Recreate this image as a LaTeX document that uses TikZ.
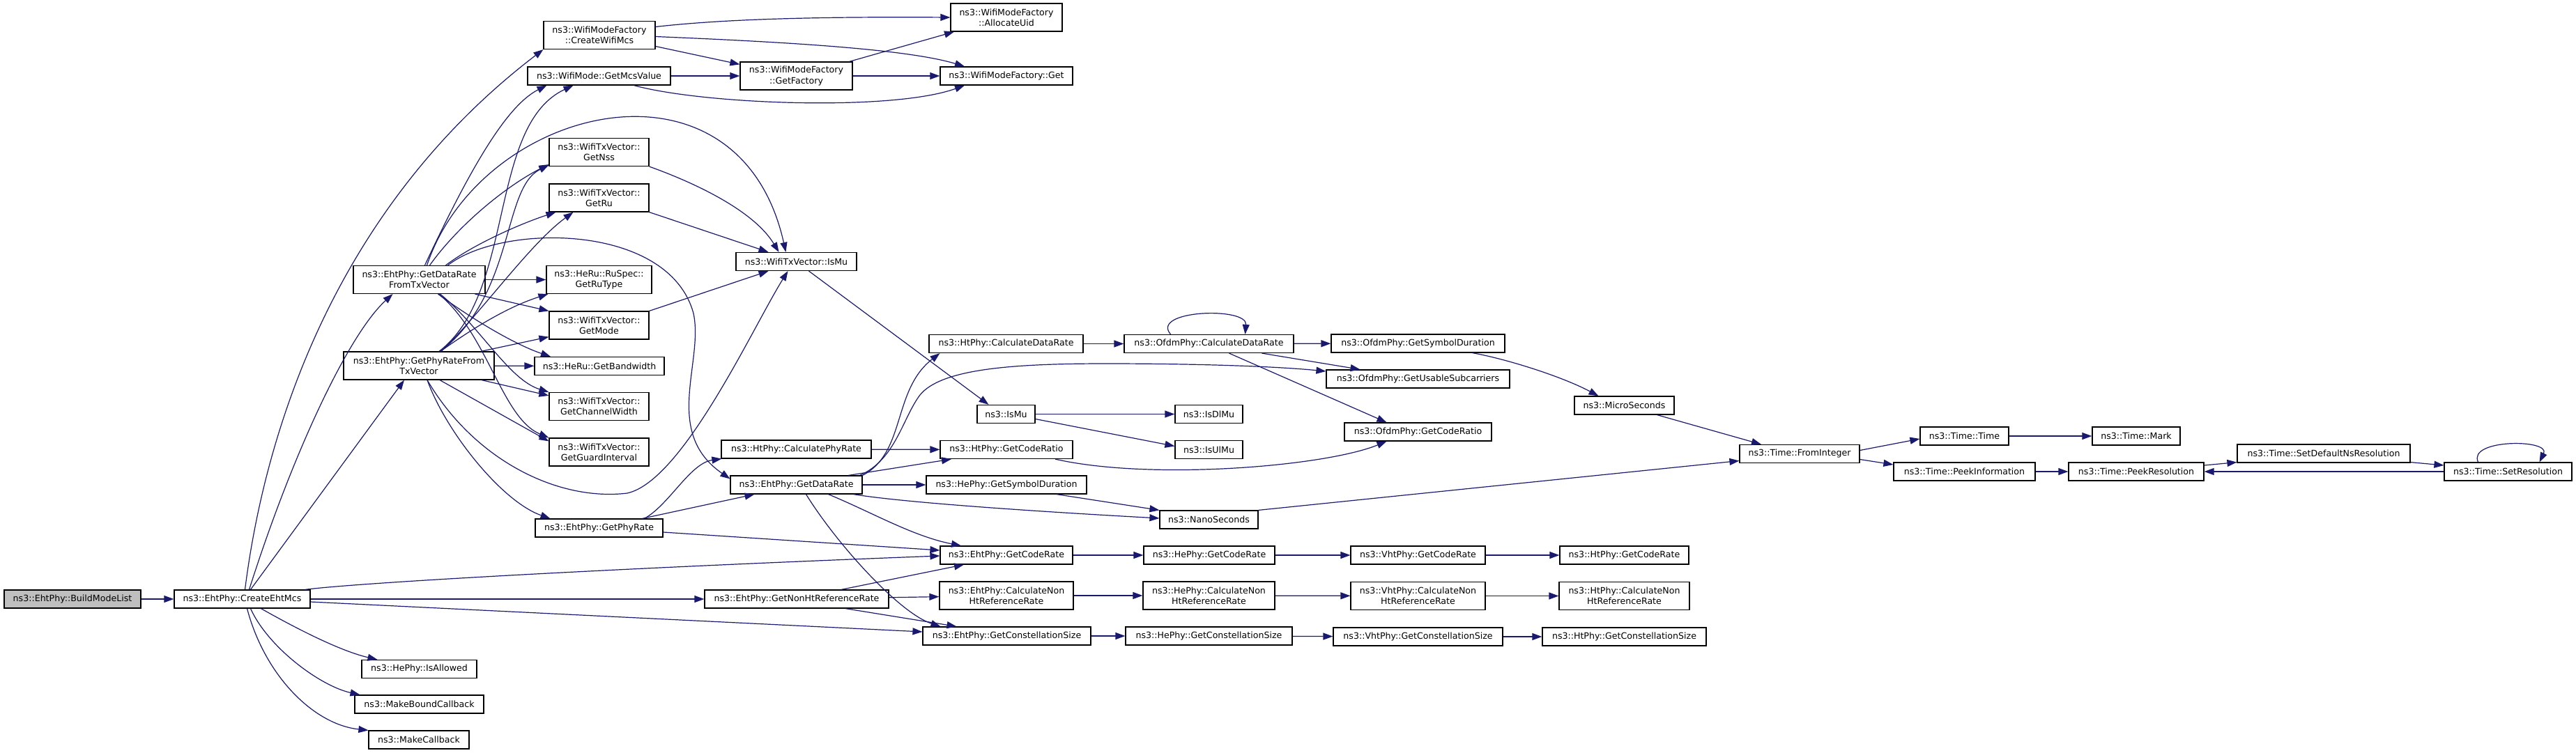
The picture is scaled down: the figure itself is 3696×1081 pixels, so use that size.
\documentclass[tikz,border=0pt]{standalone}
\usepackage{fontspec}
\setmainfont{DejaVu Sans}
\usetikzlibrary{arrows.meta}
\definecolor{edgeblue}{HTML}{191970}
\definecolor{rootgray}{HTML}{BFBFBF}

\begin{document}
\begin{tikzpicture}[x=1pt, y=-1pt,
    fn/.style={draw=black, line width=1.2pt, fill=white, inner sep=0pt,
      minimum height=26pt, align=center, font=\fontsize{12.6}{15.3}\selectfont},
    fn2/.style={fn, minimum height=40pt},
    root/.style={fn, fill=rootgray},
    call/.style={draw=edgeblue, line width=1.2pt, -{Triangle[length=14pt,width=10pt]}}]

    % Page size and background
    \fill[white] (0,0) rectangle (3696,1081);
    \useasboundingbox (0,0) rectangle (3696,1081);

    % Root and first callee
    \node[root, minimum width=196pt] (build) at (104,860) {ns3::EhtPhy::BuildModeList};
    \node[fn, minimum width=195pt] (create) at (347.5,860) {ns3::EhtPhy::CreateEhtMcs};

    % Third column
    \node[fn2, minimum width=189pt] (drtx) at (601.5,401.5) {ns3::EhtPhy::GetDataRate\\FromTxVector};
    \node[fn2, minimum width=216pt] (prtx) at (601,525) {ns3::EhtPhy::GetPhyRateFrom\\TxVector};
    \node[fn, minimum width=165pt] (allowed) at (601.5,960.5) {ns3::HePhy::IsAllowed};
    \node[fn, minimum width=185pt] (mbc) at (601.5,1011) {ns3::MakeBoundCallback};
    \node[fn, minimum width=144pt] (mc) at (601,1062) {ns3::MakeCallback};

    % Fourth column
    \node[fn2, minimum width=160pt] (cwm) at (860,50.5) {ns3::WifiModeFactory\\::CreateWifiMcs};
    \node[fn, minimum width=205pt] (mcs) at (859.5,109) {ns3::WifiMode::GetMcsValue};
    \node[fn2, minimum width=143pt] (nss) at (859.5,218.5) {ns3::WifiTxVector::\\GetNss};
    \node[fn2, minimum width=143pt] (getru) at (859.5,284) {ns3::WifiTxVector::\\GetRu};
    \node[fn2, minimum width=151pt] (rutype) at (859.5,401.5) {ns3::HeRu::RuSpec::\\GetRuType};
    \node[fn2, minimum width=143pt] (mode) at (859.5,467) {ns3::WifiTxVector::\\GetMode};
    \node[fn, minimum width=186pt] (bw) at (860,525.5) {ns3::HeRu::GetBandwidth};
    \node[fn2, minimum width=143pt] (chw) at (859.5,583.5) {ns3::WifiTxVector::\\GetChannelWidth};
    \node[fn2, minimum width=143pt] (gi) at (859.5,649) {ns3::WifiTxVector::\\GetGuardInterval};
    \node[fn, minimum width=183pt] (phyrate) at (859.5,758) {ns3::EhtPhy::GetPhyRate};

    % Fifth column
    \node[fn2, minimum width=161pt] (factory) at (1142.5,109) {ns3::WifiModeFactory\\::GetFactory};
    \node[fn, minimum width=173pt] (txismu) at (1142.5,375.5) {ns3::WifiTxVector::IsMu};
    \node[fn, minimum width=215pt] (htcpr) at (1142.5,645) {ns3::HtPhy::CalculatePhyRate};
    \node[fn, minimum width=189pt] (dr) at (1142.5,696) {ns3::EhtPhy::GetDataRate};
    \node[fn, minimum width=264pt] (nonht) at (1143,860) {ns3::EhtPhy::GetNonHtReferenceRate};

    % Sixth column
    \node[fn2, minimum width=160pt] (alloc) at (1444,25) {ns3::WifiModeFactory\\::AllocateUid};
    \node[fn, minimum width=190pt] (get) at (1444,109) {ns3::WifiModeFactory::Get};
    \node[fn, minimum width=221pt] (htcdr) at (1443.5,493.5) {ns3::HtPhy::CalculateDataRate};
    \node[fn, minimum width=83pt] (ismu) at (1443.5,594.5) {ns3::IsMu};
    \node[fn, minimum width=190pt] (htcr) at (1444,645.5) {ns3::HtPhy::GetCodeRatio};
    \node[fn, minimum width=230pt] (hesym) at (1444,696) {ns3::HePhy::GetSymbolDuration};
    \node[fn, minimum width=190pt] (ehtcode) at (1444,797) {ns3::EhtPhy::GetCodeRate};
    \node[fn2, minimum width=192pt] (ehtcnon) at (1444,855) {ns3::EhtPhy::CalculateNon\\HtReferenceRate};
    \node[fn, minimum width=241pt] (ehtcs) at (1444.5,913) {ns3::EhtPhy::GetConstellationSize};

    % Seventh column
    \node[fn, minimum width=243pt] (ofcdr) at (1734.5,493.5) {ns3::OfdmPhy::CalculateDataRate};
    \node[fn, minimum width=97pt] (isdl) at (1734.5,594.5) {ns3::IsDlMu};
    \node[fn, minimum width=97pt] (isul) at (1734.5,645.5) {ns3::IsUlMu};
    \node[fn, minimum width=141pt] (nano) at (1734.5,746) {ns3::NanoSeconds};
    \node[fn, minimum width=188pt] (hecode) at (1735,797) {ns3::HePhy::GetCodeRate};
    \node[fn2, minimum width=189pt] (hecnon) at (1734.5,855) {ns3::HePhy::CalculateNon\\HtReferenceRate};
    \node[fn, minimum width=239pt] (hecs) at (1734.5,913) {ns3::HePhy::GetConstellationSize};

    % Eighth column
    \node[fn, minimum width=249pt] (ofsym) at (2034.5,493) {ns3::OfdmPhy::GetSymbolDuration};
    \node[fn, minimum width=263pt] (usable) at (2034.5,544) {ns3::OfdmPhy::GetUsableSubcarriers};
    \node[fn, minimum width=211pt] (ofcr) at (2034.5,620) {ns3::OfdmPhy::GetCodeRatio};
    \node[fn, minimum width=193pt] (vhtcode) at (2034.5,797) {ns3::VhtPhy::GetCodeRate};
    \node[fn2, minimum width=193pt] (vhtcnon) at (2034.5,855.5) {ns3::VhtPhy::CalculateNon\\HtReferenceRate};
    \node[fn, minimum width=243pt] (vhtcs) at (2034.5,914) {ns3::VhtPhy::GetConstellationSize};

    % Ninth column
    \node[fn, minimum width=143pt] (micro) at (2330.5,582) {ns3::MicroSeconds};
    \node[fn, minimum width=185pt] (htcode) at (2330.5,797) {ns3::HtPhy::GetCodeRate};
    \node[fn2, minimum width=187pt] (htcnon) at (2330.5,855.5) {ns3::HtPhy::CalculateNon\\HtReferenceRate};
    \node[fn, minimum width=235pt] (htcs) at (2330.5,914) {ns3::HtPhy::GetConstellationSize};

    % Time functions
    \node[fn, minimum width=172pt] (fromint) at (2582,651.5) {ns3::Time::FromInteger};
    \node[fn, minimum width=127pt] (time) at (2818.5,626) {ns3::Time::Time};
    \node[fn, minimum width=203pt] (peekinfo) at (2818.5,677) {ns3::Time::PeekInformation};
    \node[fn, minimum width=126pt] (mark) at (3065,626) {ns3::Time::Mark};
    \node[fn, minimum width=194pt] (peekres) at (3065,677) {ns3::Time::PeekResolution};
    \node[fn, minimum width=248pt] (setdef) at (3334,651) {ns3::Time::SetDefaultNsResolution};
    \node[fn, minimum width=183pt] (setres) at (3598.5,677) {ns3::Time::SetResolution};

    % Calls of BuildModeList and CreateEhtMcs
    \draw[call] (build) -- (create);
    \draw[call] ([xshift=4pt]create.north) .. controls (380,620) and (480,300) .. (cwm.south west);
    \draw[call] ([xshift=10pt]create.north) .. controls (420,650) and (500,480) .. ([xshift=-38pt]drtx.south);
    \draw[call] ([xshift=12pt]create.north) -- ([xshift=-21pt]prtx.south);
    \draw[call] ([xshift=-8pt]create.north east) .. controls (520,836) and (900,815) .. ([yshift=-1pt]ehtcode.west);
    \draw[call] (create) -- (nonht);
    \draw[call] ([yshift=-4pt]create.east) -- ([yshift=6pt]ehtcs.west);
    \draw[call] ([xshift=27pt]create.south) .. controls (430,905) and (490,935) .. ([xshift=-60pt]allowed.north);
    \draw[call] ([xshift=12pt]create.south) .. controls (385,930) and (460,985) .. ([xshift=-85pt]mbc.north);
    \draw[call] ([xshift=7pt]create.south) .. controls (380,970) and (450,1040) .. (mc.north west);

    % WifiModeFactory calls
    \draw[call] ([yshift=12pt]cwm.east) .. controls (1050,26) and (1200,24) .. (alloc.west);
    \draw[call] ([yshift=-16pt]cwm.east) -- ([yshift=-4pt]factory.north west);
    \draw[call] ([yshift=-2pt]cwm.east) .. controls (1120,60) and (1300,70) .. ([xshift=-60pt]get.north);
    \draw[call] (mcs) -- (factory);
    \draw[call] ([xshift=50pt]mcs.south) .. controls (1010,150) and (1280,160) .. ([xshift=-60pt]get.south);
    \draw[call] ([xshift=-5pt]factory.north east) -- ([xshift=-75pt]alloc.south);
    \draw[call] (factory) -- (get);

    % Calls of GetDataRateFromTxVector
    \draw[call] ([xshift=8pt]drtx.north) .. controls (680,230) and (730,150) .. ([xshift=-75pt]mcs.south);
    \draw[call] ([xshift=11pt]drtx.north) .. controls (690,150) and (1060,60) .. ([xshift=-15pt]txismu.north);
    \draw[call] ([xshift=15pt]drtx.north) .. controls (660,320) and (730,265) .. ([yshift=3pt]nss.south west);
    \draw[call] ([xshift=38pt]drtx.north) .. controls (680,350) and (750,320) .. ([xshift=-62pt]getru.south);
    \draw[call] ([xshift=41pt]drtx.north) .. controls (720,320) and (960,320) .. (995,450)
        .. controls (1010,520) and (950,620) .. ([yshift=-5pt]dr.north west);
    \draw[call] (drtx) -- (rutype);
    \draw[call] ([xshift=80pt]drtx.south) -- (mode.north west);
    \draw[call] ([xshift=27pt]drtx.south) .. controls (680,460) and (740,495) .. ([xshift=-70pt]bw.north);
    \draw[call] ([xshift=30pt]drtx.south) .. controls (690,470) and (730,545) .. (chw.north west);
    \draw[call] ([xshift=28pt]drtx.south) .. controls (700,480) and (720,600) .. (gi.north west);

    % Calls of GetPhyRateFromTxVector
    \draw[call] ([xshift=29pt]prtx.north) .. controls (740,420) and (700,180) .. ([xshift=-37pt]mcs.south);
    \draw[call] ([xshift=31pt]prtx.north) .. controls (740,420) and (720,270) .. ([yshift=2pt]nss.south west);
    \draw[call] ([xshift=32pt]prtx.north) .. controls (690,450) and (760,350) .. ([xshift=-37pt]getru.south);
    \draw[call] ([xshift=31pt]prtx.north) .. controls (680,470) and (730,440) .. ([xshift=3pt]rutype.south west);
    \draw[call] ([xshift=89pt]prtx.north) -- ([yshift=4pt]mode.south west);
    \draw[call] (prtx) -- (bw);
    \draw[call] ([xshift=90pt]prtx.south) -- ([yshift=-5pt]chw.north west);
    \draw[call] ([xshift=30pt]prtx.south) -- ([yshift=-5pt]gi.north west);
    \draw[call] ([xshift=12pt]prtx.south) .. controls (680,660) and (800,720) .. (900,708)
        .. controls (980,690) and (1080,470) .. ([xshift=-12pt]txismu.south);
    \draw[call] ([xshift=12pt]prtx.south) .. controls (640,620) and (720,720) .. ([xshift=-70pt]phyrate.north);

    % Calls of GetPhyRate
    \draw[call] ([xshift=65pt]phyrate.north) .. controls (960,725) and (990,665) .. ([xshift=1pt]htcpr.south west);
    \draw[call] ([xshift=62pt]phyrate.north) -- ([xshift=-60pt]dr.south);
    \draw[call] ([yshift=-6pt]phyrate.east) -- ([yshift=7pt]ehtcode.west);

    % WifiTxVector calls of IsMu
    \draw[call] (nss.south east) .. controls (990,260) and (1080,300) .. ([xshift=-25pt]txismu.north);
    \draw[call] (getru.south east) -- ([xshift=-40pt]txismu.north);
    \draw[call] (mode.north east) -- ([xshift=-40pt]txismu.south);
    \draw[call] ([xshift=18pt]txismu.south) -- ([xshift=-25pt]ismu.north);

    % Calls of EhtPhy::GetDataRate
    \draw[call] (dr.north east) .. controls (1300,650) and (1280,560) .. ([xshift=-95pt]htcdr.south);
    \draw[call] ([xshift=-4pt]dr.north east) .. controls (1285,660) and (1295,600) .. (1320,567)
        .. controls (1350,530) and (1450,522) .. (1586,522)
        .. controls (1700,522) and (1820,525) .. ([yshift=11pt]usable.west);
    \draw[call] ([xshift=75pt]dr.north) -- ([xshift=-79pt]htcr.south);
    \draw[call] (dr) -- (hesym);
    \draw[call] ([xshift=82pt]dr.south) .. controls (1300,722) and (1500,735) .. ([yshift=2pt]nano.west);
    \draw[call] ([xshift=46pt]dr.south) .. controls (1250,735) and (1310,770) .. ([xshift=-65pt]ehtcode.north);
    \draw[call] ([xshift=14pt]dr.south) .. controls (1200,780) and (1290,880) .. ([xshift=-95pt]ehtcs.north);
    \draw[call] ([xshift=72pt]hesym.south) -- (nano.north west);
    \draw[call] (htcpr) -- (htcr);

    % OfdmPhy calls
    \draw[call] (htcdr) -- (ofcdr);
    \draw[call] ([xshift=-55pt]ofcdr.north) .. controls (1650,445) and (1790,440) .. ([xshift=52pt]ofcdr.north);
    \draw[call] (ofcdr) -- (ofsym);
    \draw[call] ([xshift=76pt]ofcdr.south) -- ([xshift=-83pt]usable.north);
    \draw[call] ([xshift=29pt]ofcdr.south) -- ([xshift=-45pt]ofcr.north);
    \draw[call] ([xshift=70pt]htcr.south) .. controls (1650,690) and (1900,670) .. ([xshift=-45pt]ofcr.south);
    \draw[call] ([xshift=78pt]ofsym.south) .. controls (2160,515) and (2240,540) .. ([xshift=-37pt]micro.north);

    % IsMu calls
    \draw[call] (ismu) -- (isdl);
    \draw[call] ([yshift=-7pt]ismu.east) -- ([yshift=5pt]isul.west);

    % Time calls
    \draw[call] ([xshift=47pt]micro.south) -- ([xshift=-55pt]fromint.north);
    \draw[call] (nano.north east) -- ([yshift=-10pt]fromint.west);
    \draw[call] ([yshift=5pt]fromint.east) -- ([yshift=-4pt]time.west);
    \draw[call] ([yshift=-8pt]fromint.east) -- ([yshift=10pt]peekinfo.west);
    \draw[call] (time) -- (mark);
    \draw[call] (peekinfo) -- (peekres);
    \draw[call] ([yshift=9pt]peekres.east) -- ([yshift=1pt]setdef.south west);
    \draw[call] ([yshift=1pt]setdef.south east) -- ([yshift=9pt]setres.west);
    \draw[call] (setres) -- (peekres);
    \draw[call] ([xshift=-43pt]setres.north) .. controls (3540,630) and (3660,630) .. ([xshift=45pt]setres.north);

    % Code rate, non-HT reference rate and constellation size chains
    \draw[call] (nonht) -- (ehtcnon);
    \draw[call] ([xshift=64pt]nonht.north) -- ([xshift=-61pt]ehtcode.south);
    \draw[call] ([xshift=70pt]nonht.south) -- ([xshift=-72pt]ehtcs.north);
    \draw[call] (ehtcode) -- (hecode);
    \draw[call] (hecode) -- (vhtcode);
    \draw[call] (vhtcode) -- (htcode);
    \draw[call] (ehtcnon) -- (hecnon);
    \draw[call] (hecnon) -- (vhtcnon);
    \draw[call] (vhtcnon) -- (htcnon);
    \draw[call] (ehtcs) -- (hecs);
    \draw[call] (hecs) -- (vhtcs);
    \draw[call] (vhtcs) -- (htcs);

\end{tikzpicture}
\end{document}
